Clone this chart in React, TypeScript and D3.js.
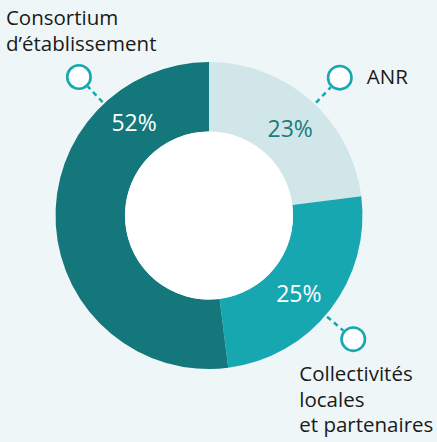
import React, { useEffect } from "react";
import * as d3 from "d3";

const categories = ["ANR", "Collectivités locales et partenaires", "Consortium d’établissement"];
const values = [23, 25, 52];
const percentLabels = ["23%", "25%", "52%"];
const labelLines = [["ANR"], ["Collectivités", "locales", "et partenaires"], ["Consortium", "d’établissement"]];
const sliceColors = ["#d0e6e9", "#17a7b1", "#13777b"];
const percentColors = ["#1b7a7e", "#ffffff", "#ffffff"];
// angle (degrees, clockwise from 12 o'clock) where the percentage and the callout sit
const percentAngles = [43, 131, -39];
const markerAngles = [43.5, 130.6, -43.2];

const W = 437;
const H = 442;
const cx = 209;
const cy = 215.5;
const outerR = 153.5;
const innerR = 84;
const markerR = 190;
const circleR = 13;
const pctR = 119;

export default function App() {
  useEffect(() => {
    document.body.style.margin = "0";
  }, []);

  const pie = d3.pie<number>().sort(null).value((d) => d)(values);
  const arc = d3.arc<d3.PieArcDatum<number>>().innerRadius(innerR).outerRadius(outerR);
  const rad = (deg: number) => (deg * Math.PI) / 180;
  const polar = (r: number, deg: number): [number, number] => [
    Math.sin(rad(deg)) * r,
    -Math.cos(rad(deg)) * r,
  ];

  const labelPos: { dx: number; dy: number; anchor: string }[] = [
    { dx: 27, dy: 6.5, anchor: "start" },
    { dx: -54, dy: 42, anchor: "start" },
    { dx: -73, dy: -52, anchor: "start" },
  ];
  const lineH = 25.5;
  const font = "'Open Sans', 'Noto Sans', sans-serif";

  return (
    <svg width={W} height={H} style={{ display: "block" }} fontFamily={font}>
      <rect width={W} height={H} fill="#eef6f8" />
      <g transform={`translate(${cx},${cy})`}>
        {pie.map((p, i) => (
          <path key={categories[i]} d={arc(p) || ""} fill={sliceColors[i]} />
        ))}
        <circle r={innerR} fill="#ffffff" />
        {pie.map((p, i) => {
          const [x, y] = polar(pctR, percentAngles[i]);
          return (
            <text
              key={"pct" + i}
              x={x}
              y={y}
              dy="0.35em"
              textAnchor="middle"
              fontSize={23}
              fill={percentColors[i]}
            >
              {percentLabels[i]}
            </text>
          );
        })}
        {markerAngles.map((a, i) => {
          const [x1, y1] = polar(outerR + 2, a);
          const [x2, y2] = polar(markerR - circleR, a);
          const [mx, my] = polar(markerR, a);
          const lp = labelPos[i];
          return (
            <g key={"m" + i}>
              <line
                x1={x1}
                y1={y1}
                x2={x2}
                y2={y2}
                stroke="#17a7b1"
                strokeWidth={2.5}
                strokeDasharray="5 4"
              />
              <circle cx={mx} cy={my} r={circleR - 1.3} fill="#ffffff" stroke="#17a7b1" strokeWidth={2.6} />
              <text
                x={mx + lp.dx}
                y={my + lp.dy}
                fontSize={20.5}
                fill="#1a1a1a"
                textAnchor={lp.anchor}
              >
                {labelLines[i].map((t, j) => (
                  <tspan key={j} x={mx + lp.dx} dy={j === 0 ? 0 : lineH}>
                    {t}
                  </tspan>
                ))}
              </text>
            </g>
          );
        })}
      </g>
    </svg>
  );
}
